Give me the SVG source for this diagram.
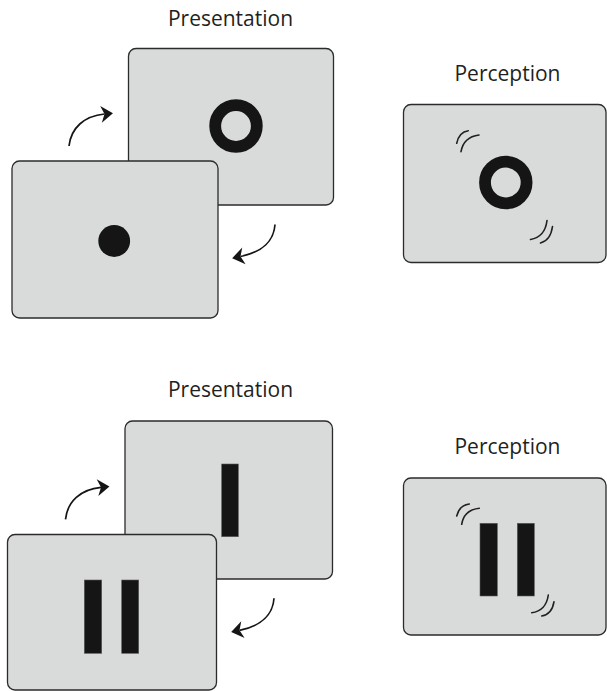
<svg xmlns="http://www.w3.org/2000/svg" width="607" height="691" viewBox="0 0 607 691">
  <style>
    .label { font-family: "Open Sans", "Noto Sans", "Liberation Sans", sans-serif; font-size: 21px; fill: #231f20; text-anchor: middle; }
    .screen { fill: #d9dbdb; stroke: #2b2b2b; stroke-width: 1.3; }
    .ink { fill: #151515; }
    .bar { fill: #151515; stroke: #5a5a5a; stroke-width: 0.6; }
    .ring { fill: none; stroke: #151515; stroke-width: 11.8; }
    .blur { fill: none; stroke: #231f20; stroke-width: 1.6; stroke-linecap: round; }
    .flow { fill: none; stroke: #151515; stroke-width: 1.7; }
  </style>
  <defs>
    <marker id="head" markerUnits="userSpaceOnUse" markerWidth="20" markerHeight="20" viewBox="-2 -10 16 20" refX="3.5" refY="0" orient="auto" overflow="visible">
      <path d="M0,-8.5 L12,0 L0,8.5 L3.5,0 Z" fill="#151515"/>
    </marker>
  </defs>

  <!-- top row: alternating presentation -->
  <text class="label" x="230.5" y="26">Presentation</text>
  <g id="ring-frame">
    <rect class="screen" x="128.5" y="48.5" width="205" height="156.5" rx="7.5"/>
    <circle class="ring" cx="236" cy="126" r="20.8"/>
  </g>
  <g id="dot-frame">
    <rect class="screen" x="12" y="161" width="206" height="157" rx="7.5"/>
    <circle class="ink" cx="114.2" cy="241" r="15.9"/>
  </g>

  <!-- top row: perceived result -->
  <text class="label" x="507.5" y="80.7">Perception</text>
  <g id="ring-percept">
    <rect class="screen" x="403.5" y="104.5" width="202.5" height="158" rx="7.5"/>
    <circle class="ring" cx="505.8" cy="182.5" r="20.8"/>
    <path class="blur" d="M456.7,143.3 Q459,132 468.3,130.7"/>
    <path class="blur" d="M461,151.7 Q463.5,137 479,135"/>
    <path class="blur" d="M547,220.5 Q545,237 530.5,239.5"/>
    <path class="blur" d="M552.5,226.5 Q550.5,240.5 540.5,243"/>
  </g>

  <!-- bottom row: alternating presentation -->
  <text class="label" x="230.5" y="396.7">Presentation</text>
  <g id="bar-frame">
    <rect class="screen" x="125" y="421" width="207.5" height="158" rx="7.5"/>
    <rect class="bar" x="221.7" y="464" width="16.6" height="72.7"/>
  </g>
  <g id="pair-frame">
    <rect class="screen" x="7.5" y="534.5" width="209" height="155.5" rx="7.5"/>
    <rect class="bar" x="84.3" y="580" width="17.4" height="73.3"/>
    <rect class="bar" x="121.7" y="580" width="17" height="73.3"/>
  </g>

  <!-- bottom row: perceived result -->
  <text class="label" x="507.5" y="454">Perception</text>
  <g id="pair-percept">
    <rect class="screen" x="403.5" y="478" width="202.5" height="157" rx="7.5"/>
    <rect class="bar" x="480" y="523.3" width="17.3" height="72.7"/>
    <rect class="bar" x="517.3" y="523.3" width="17" height="72.7"/>
    <path class="blur" d="M456.7,516 Q459,505.5 469.3,504"/>
    <path class="blur" d="M461.7,524.3 Q464,510 479.3,508.3"/>
    <path class="blur" d="M548.3,595 Q546,611 531.7,612.7"/>
    <path class="blur" d="M554,601.7 Q552,614.5 541.7,616"/>
  </g>

  <!-- alternation arrows -->
  <g id="connectors">
    <path class="flow" d="M69,146 C71,128 84,116 104.5,114" marker-end="url(#head)"/>
    <path class="flow" d="M275,224.5 C274,240 263,252 240.5,256.5" marker-end="url(#head)"/>
    <g transform="translate(-3.5,373.3)">
      <path class="flow" d="M69,146 C71,128 84,116 104.5,114" marker-end="url(#head)"/>
    </g>
    <g transform="translate(-1,373.8)">
      <path class="flow" d="M275,224.5 C274,240 263,252 240.5,256.5" marker-end="url(#head)"/>
    </g>
  </g>
</svg>
